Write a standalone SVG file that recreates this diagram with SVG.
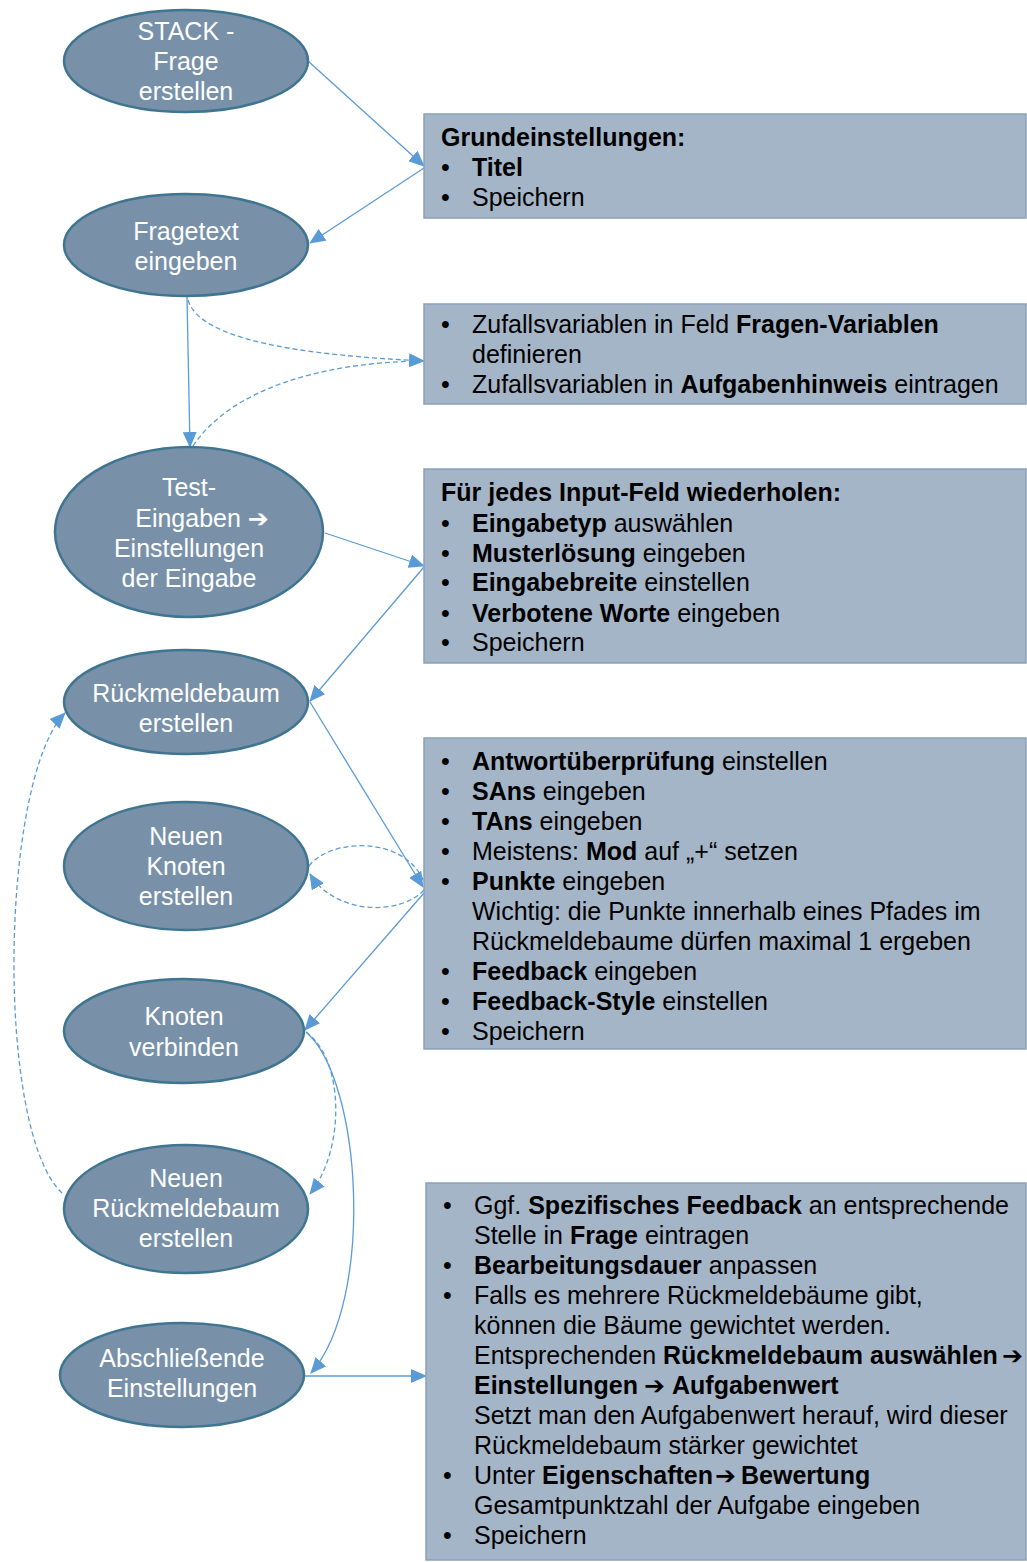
<svg xmlns="http://www.w3.org/2000/svg" width="1027" height="1562" viewBox="0 0 1027 1562">
<defs>
<style>
.node ellipse{fill:#7891a9;stroke:#3f7590;stroke-width:2.5}
.node text{font-family:"Liberation Sans",Arial,sans-serif;font-size:25px;fill:#ffffff;text-anchor:middle}
.box rect{fill:#a4b5c8;stroke:#8ba1ba;stroke-width:1.5}
.box text{font-family:"Liberation Sans",Arial,sans-serif;font-size:25px;fill:#000000}
.b{font-weight:bold}
.ar{font-family:"DejaVu Sans",sans-serif;font-size:25px}
.c{fill:none;stroke:#5b9bd5;stroke-width:1.3}
.d{stroke-dasharray:5,3}
</style>
<marker id="ah" markerUnits="userSpaceOnUse" markerWidth="16" markerHeight="14" refX="15" refY="7" orient="auto">
<path d="M0,0 L16,7 L0,14 Z" fill="#5b9bd5"/>
</marker>
</defs>
<rect width="1027" height="1562" fill="#ffffff"/>

<g id="connectors">
<path class="c" d="M308,61 L424,166" marker-end="url(#ah)"/>
<path class="c" d="M424,168 L310,243" marker-end="url(#ah)"/>
<path class="c" d="M187,297 L190,447" marker-end="url(#ah)"/>
<path class="c d" d="M188,300 C200,340 300,355 424,361" marker-end="url(#ah)"/>
<path class="c d" d="M193,446 C230,390 320,362 424,361"/>
<path class="c" d="M325,533 L424,566" marker-end="url(#ah)"/>
<path class="c" d="M424,567 L310,701" marker-end="url(#ah)"/>
<path class="c" d="M310,702 L423,887" marker-end="url(#ah)"/>
<path class="c d" d="M309,866 C330,838 405,835 424,882"/>
<path class="c d" d="M424,890 C400,916 335,915 310,874" marker-end="url(#ah)"/>
<path class="c" d="M424,893 L305,1030" marker-end="url(#ah)"/>
<path class="c d" d="M306,1032 C345,1060 345,1150 310,1194" marker-end="url(#ah)"/>
<path class="c" d="M306,1032 C362,1080 375,1300 311,1373" marker-end="url(#ah)"/>
<path class="c" d="M304,1376 L426,1376" marker-end="url(#ah)"/>
<path class="c d" d="M62,1193 C-5,1130 0,780 65,713" marker-end="url(#ah)"/>
</g>

<g id="n1" class="node"><ellipse cx="186" cy="61" rx="122" ry="51"/>
<text x="186" y="40">STACK -</text><text x="186" y="70">Frage</text><text x="186" y="100">erstellen</text></g>
<g id="n2" class="node"><ellipse cx="186" cy="245" rx="122" ry="51"/>
<text x="186" y="240">Fragetext</text><text x="186" y="270">eingeben</text></g>
<g id="n3" class="node"><ellipse cx="189" cy="532" rx="134" ry="85"/>
<text x="189" y="496">Test-</text><text x="202" y="527">Eingaben <tspan class="ar">➔</tspan></text><text x="189" y="557">Einstellungen</text><text x="189" y="587">der Eingabe</text></g>
<g id="n4" class="node"><ellipse cx="186" cy="702" rx="122" ry="52"/>
<text x="186" y="702">Rückmeldebaum</text><text x="186" y="732">erstellen</text></g>
<g id="n5" class="node"><ellipse cx="186" cy="866" rx="122" ry="64"/>
<text x="186" y="845">Neuen</text><text x="186" y="875">Knoten</text><text x="186" y="905">erstellen</text></g>
<g id="n6" class="node"><ellipse cx="184" cy="1031" rx="120" ry="52"/>
<text x="184" y="1025">Knoten</text><text x="184" y="1056">verbinden</text></g>
<g id="n7" class="node"><ellipse cx="186" cy="1209" rx="122" ry="64"/>
<text x="186" y="1187">Neuen</text><text x="186" y="1217">Rückmeldebaum</text><text x="186" y="1247">erstellen</text></g>
<g id="n8" class="node"><ellipse cx="182" cy="1375" rx="122" ry="52"/>
<text x="182" y="1367">Abschließende</text><text x="182" y="1397">Einstellungen</text></g>

<g id="boxA" class="box"><rect x="424" y="114" width="602" height="104"/>
<text x="441" y="146" class="b">Grundeinstellungen:</text>
<text x="441" y="176">•</text><text x="472" y="176" class="b">Titel</text>
<text x="441" y="206">•</text><text x="472" y="206">Speichern</text></g>

<g id="boxB" class="box"><rect x="424" y="304" width="602" height="100"/>
<text x="441" y="333">•</text><text x="472" y="333">Zufallsvariablen in Feld <tspan class="b">Fragen-Variablen</tspan></text>
<text x="472" y="363">definieren</text>
<text x="441" y="393">•</text><text x="472" y="393">Zufallsvariablen in <tspan class="b">Aufgabenhinweis</tspan> eintragen</text></g>

<g id="boxC" class="box"><rect x="424" y="469" width="602" height="194"/>
<text x="441" y="501" class="b">Für jedes Input-Feld wiederholen:</text>
<text x="441" y="532">•</text><text x="472" y="532"><tspan class="b">Eingabetyp</tspan> auswählen</text>
<text x="441" y="562">•</text><text x="472" y="562"><tspan class="b">Musterlösung</tspan> eingeben</text>
<text x="441" y="591">•</text><text x="472" y="591"><tspan class="b">Eingabebreite</tspan> einstellen</text>
<text x="441" y="622">•</text><text x="472" y="622"><tspan class="b">Verbotene Worte</tspan> eingeben</text>
<text x="441" y="651">•</text><text x="472" y="651">Speichern</text></g>

<g id="boxD" class="box"><rect x="424" y="738" width="602" height="311"/>
<text x="441" y="770">•</text><text x="472" y="770"><tspan class="b">Antwortüberprüfung</tspan> einstellen</text>
<text x="441" y="800">•</text><text x="472" y="800"><tspan class="b">SAns</tspan> eingeben</text>
<text x="441" y="830">•</text><text x="472" y="830"><tspan class="b">TAns</tspan> eingeben</text>
<text x="441" y="860">•</text><text x="472" y="860">Meistens: <tspan class="b">Mod</tspan> auf „+“ setzen</text>
<text x="441" y="890">•</text><text x="472" y="890"><tspan class="b">Punkte</tspan> eingeben</text>
<text x="472" y="920">Wichtig: die Punkte innerhalb eines Pfades im</text>
<text x="472" y="950">Rückmeldebaume dürfen maximal 1 ergeben</text>
<text x="441" y="980">•</text><text x="472" y="980"><tspan class="b">Feedback</tspan> eingeben</text>
<text x="441" y="1010">•</text><text x="472" y="1010"><tspan class="b">Feedback-Style</tspan> einstellen</text>
<text x="441" y="1040">•</text><text x="472" y="1040">Speichern</text></g>

<g id="boxE" class="box"><rect x="426" y="1183" width="600" height="377"/>
<text x="443" y="1214">•</text><text x="474" y="1214">Ggf. <tspan class="b">Spezifisches Feedback</tspan> an entsprechende</text>
<text x="474" y="1244">Stelle in <tspan class="b">Frage</tspan> eintragen</text>
<text x="443" y="1274">•</text><text x="474" y="1274"><tspan class="b">Bearbeitungsdauer</tspan> anpassen</text>
<text x="443" y="1304">•</text><text x="474" y="1304">Falls es mehrere Rückmeldebäume gibt,</text>
<text x="474" y="1334">können die Bäume gewichtet werden.</text>
<text x="474" y="1364">Entsprechenden <tspan class="b">Rückmeldebaum auswählen</tspan><tspan x="1002" class="ar b">➔</tspan></text>
<text x="474" y="1394" class="b">Einstellungen <tspan x="644" class="ar">➔</tspan><tspan x="672">Aufgabenwert</tspan></text>
<text x="474" y="1424">Setzt man den Aufgabenwert herauf, wird dieser</text>
<text x="474" y="1454">Rückmeldebaum stärker gewichtet</text>
<text x="443" y="1484">•</text><text x="474" y="1484">Unter <tspan class="b">Eigenschaften</tspan><tspan x="715" class="ar b">➔</tspan><tspan x="741" class="b">Bewertung</tspan></text>
<text x="474" y="1514">Gesamtpunktzahl der Aufgabe eingeben</text>
<text x="443" y="1544">•</text><text x="474" y="1544">Speichern</text></g>
</svg>
